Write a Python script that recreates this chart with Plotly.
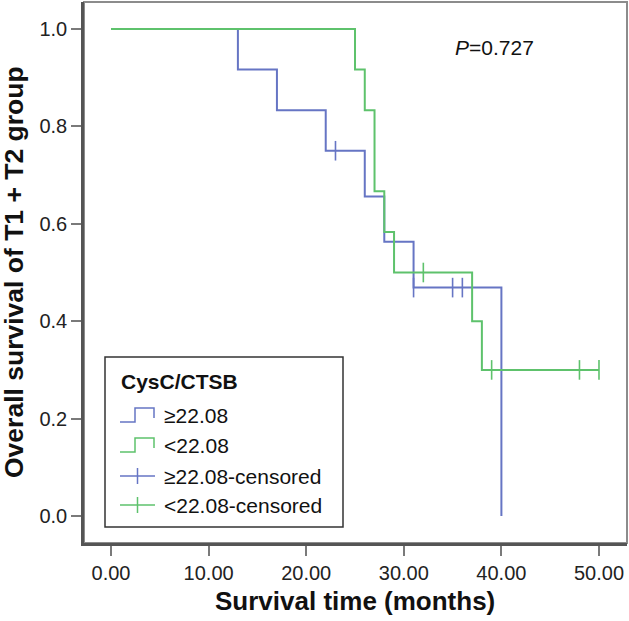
import plotly.graph_objects as go

# Kaplan-Meier step points
hi_time = [0, 13, 17, 22, 26, 28, 31, 40]
hi_surv = [1.0, 0.917, 0.833, 0.750, 0.656, 0.563, 0.469, 0.0]
lo_time = [0, 25, 26, 27, 28, 29, 37, 38, 50]
lo_surv = [1.0, 0.917, 0.833, 0.667, 0.583, 0.500, 0.400, 0.300, 0.300]

# censored observations
hi_cens_time = [23, 31, 35, 36]
hi_cens_surv = [0.750, 0.469, 0.469, 0.469]
lo_cens_time = [32, 39, 48, 50]
lo_cens_surv = [0.500, 0.300, 0.300, 0.300]

x_ticks = [0, 10, 20, 30, 40, 50]
x_ticklabels = ['0.00', '10.00', '20.00', '30.00', '40.00', '50.00']
y_ticks = [0, 0.2, 0.4, 0.6, 0.8, 1.0]
y_ticklabels = ['0.0', '0.2', '0.4', '0.6', '0.8', '1.0']

legend_title = 'CysC/CTSB'
legend_labels = ['≥22.08', '<22.08', '≥22.08-censored', '<22.08-censored']

BLUE = '#6675c4'
GREEN = '#5ec26c'
FONT = 'Liberation Sans, Arial, sans-serif'

W, H = 629, 621
L, R, T, B = 84, 2, 2, 78

fig = go.Figure()
fig.add_trace(go.Scatter(x=hi_time, y=hi_surv, mode='lines', line=dict(color=BLUE, width=2, shape='hv')))
fig.add_trace(go.Scatter(x=lo_time, y=lo_surv, mode='lines', line=dict(color=GREEN, width=2, shape='hv')))
fig.add_trace(go.Scatter(x=hi_cens_time, y=hi_cens_surv, mode='markers',
                         marker=dict(symbol='line-ns', size=14, line=dict(color=BLUE, width=1.6))))
fig.add_trace(go.Scatter(x=lo_cens_time, y=lo_cens_surv, mode='markers',
                         marker=dict(symbol='line-ns', size=14, line=dict(color=GREEN, width=1.6))))


# pixel -> paper helpers for the hand-drawn legend
def px(x):
    return (x - L) / (W - L - R)


def py(y):
    return (H - B - y) / (H - B - T)


# light frame on top/right, darker axes on left/bottom
shapes = [dict(type='rect', xref='paper', yref='paper', x0=0, x1=1, y0=0, y1=1,
               line=dict(color='#8c8c8c', width=2), layer='below')]
shapes.append(dict(type='rect', xref='paper', yref='paper', x0=px(105), x1=px(343), y0=py(527), y1=py(357),
                   line=dict(color='#333', width=1.5), fillcolor='white', layer='above'))
annotations = [dict(text='<b>' + legend_title + '</b>', xref='paper', yref='paper', x=px(119), y=py(381),
                    xanchor='left', yanchor='middle', showarrow=False, font=dict(size=21, color='#111', family=FONT))]
rows = [415, 445, 476, 505]
colors = [BLUE, GREEN, BLUE, GREEN]
for i, (yc, lab, c) in enumerate(zip(rows, legend_labels, colors)):
    if i < 2:
        path = 'M {},{} L {},{} L {},{} L {},{} L {},{}'.format(
            px(120), py(yc + 7), px(135), py(yc + 7), px(135), py(yc - 7), px(154), py(yc - 7), px(154), py(yc + 3))
        shapes.append(dict(type='path', xref='paper', yref='paper', path=path, line=dict(color=c, width=1.5),
                           layer='above'))
    else:
        shapes.append(dict(type='line', xref='paper', yref='paper', x0=px(120), x1=px(155), y0=py(yc), y1=py(yc),
                           line=dict(color=c, width=1.5), layer='above'))
        shapes.append(dict(type='line', xref='paper', yref='paper', x0=px(137.5), x1=px(137.5), y0=py(yc - 8),
                           y1=py(yc + 8), line=dict(color=c, width=1.5), layer='above'))
    annotations.append(dict(text=lab, xref='paper', yref='paper', x=px(162), y=py(yc), xanchor='left',
                            yanchor='middle', showarrow=False, font=dict(size=21, color='#111', family=FONT)))

annotations.append(dict(text='<i>P</i>=0.727', xref='paper', yref='paper', x=px(494), y=py(47), showarrow=False,
                        xanchor='center', yanchor='middle', font=dict(size=21, color='#111', family=FONT)))
annotations.append(dict(text='<b>Survival time (months)</b>', xref='paper', yref='paper', x=px(355), y=py(601),
                        showarrow=False, xanchor='center', yanchor='middle',
                        font=dict(size=26, color='#111', family=FONT)))
annotations.append(dict(text='<b>Overall survival of T1 + T2 group</b>', xref='paper', yref='paper', x=px(14),
                        y=py(272), textangle=-90, showarrow=False, xanchor='center', yanchor='middle',
                        font=dict(size=26.5, color='#111', family=FONT)))

axis_common = dict(showgrid=False, zeroline=False, showline=True, linecolor='#555', linewidth=2.5,
                   ticks='outside', ticklen=10, tickwidth=2, tickcolor='#7a7a7a',
                   tickfont=dict(size=20, color='#222', family=FONT))

fig.update_layout(
    width=W, height=H,
    margin=dict(l=L, r=R, t=T, b=B),
    plot_bgcolor='white', paper_bgcolor='white',
    showlegend=False,
    hovermode=False,
    xaxis=dict(range=[-2.77, 52.87], tickvals=x_ticks, ticktext=x_ticklabels, **axis_common),
    yaxis=dict(range=[-0.0554, 1.0554], tickvals=y_ticks, ticktext=y_ticklabels, **axis_common),
    shapes=shapes,
    annotations=annotations,
)

# drop the browser's default body margin so the figure fills the window
fig.write_html("out.html", config={'displayModeBar': False},
               post_script="document.body.style.margin='0';document.body.style.overflow='hidden';")
